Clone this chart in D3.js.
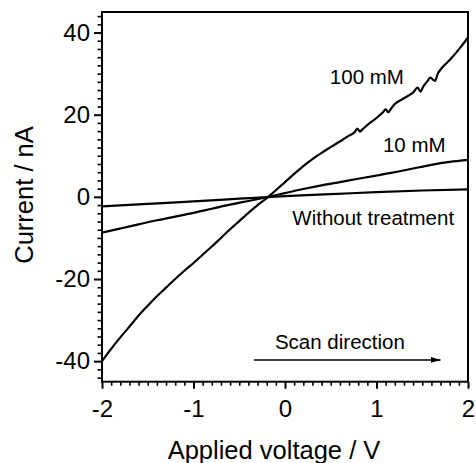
<!DOCTYPE html>
<html>
<head>
<meta charset="utf-8">
<script src="https://cdn.jsdelivr.net/npm/d3@7"></script>
<style>
  html, body { margin: 0; padding: 0; background: #fff; }
  svg { display: block; }
  text { font-family: "Liberation Sans", Arial, sans-serif; fill: #000; }
</style>
</head>
<body>
<svg id="chart" width="476" height="463"></svg>
<script>
// ---- data ----
const xTicks = [-2, -1, 0, 1, 2];
const yTicks = [-40, -20, 0, 20, 40];

const voltage100 = [-2.0,-1.9,-1.8,-1.7,-1.6,-1.5,-1.4,-1.3,-1.2,-1.1,-1.0,-0.9,-0.8,-0.7,-0.6,-0.5,-0.4,-0.3,-0.2,-0.1,0.0,0.1,0.2,0.3,0.4,0.5,0.6,0.7,0.76,0.79,0.82,0.85,0.9,1.0,1.07,1.1,1.13,1.16,1.2,1.3,1.4,1.45,1.48,1.51,1.55,1.59,1.62,1.64,1.67,1.7,1.8,1.9,2.0];
const current100 = [-40.0,-37.0,-34.2,-31.6,-28.9,-26.5,-24.2,-22.1,-20.0,-18.0,-16.1,-14.1,-12.1,-10.0,-7.9,-5.9,-3.9,-2.0,-0.3,1.6,3.6,5.6,7.5,9.2,10.7,12.1,13.5,14.9,15.7,16.6,15.9,16.5,17.5,19.2,20.6,21.3,20.6,21.5,22.6,24.0,25.4,26.6,25.6,26.8,28.0,29.0,28.5,28.2,30.0,31.0,33.3,35.9,38.8];

const voltage10 = [-2.0,-1.8,-1.6,-1.4,-1.2,-1.0,-0.8,-0.6,-0.4,-0.2,0.0,0.2,0.4,0.6,0.8,1.0,1.2,1.4,1.6,1.8,2.0];
const current10 = [-8.7,-7.7,-6.7,-5.7,-4.8,-3.9,-2.9,-1.9,-1.0,-0.1,0.9,1.9,2.8,3.6,4.4,5.2,6.0,6.9,7.8,8.5,9.0];

const voltage0 = [-2.0,-1.5,-1.0,-0.5,0.0,0.5,1.0,1.5,2.0];
const current0 = [-2.3,-1.7,-1.1,-0.45,0.2,0.65,1.15,1.55,1.8];

const seriesLabels = ["100 mM", "10 mM", "Without treatment"];

// ---- layout ----
const svg = d3.select("#chart");
const x = d3.scaleLinear().domain([-2, 2]).range([102, 468]);
const y = d3.scaleLinear().domain([-45, 45]).range([381.7, 12]);
const FONT_TICK = "24px";
const FONT_TITLE = "25.5px";
const FONT_NOTE = "20.5px";

// curves
const line = d3.line().x(d => x(d[0])).y(d => y(d[1])).curve(d3.curveMonotoneX);
const series = [
  d3.zip(voltage100, current100),
  d3.zip(voltage10, current10),
  d3.zip(voltage0, current0)
];
svg.append("g").selectAll("path").data(series).join("path")
  .attr("d", line)
  .attr("fill", "none")
  .attr("stroke", "#000")
  .attr("stroke-width", 2.2)
  .attr("stroke-linejoin", "round");

// minor ticks
const xMinor = d3.range(-20, 21).map(d => d / 10).filter(v => Math.abs(v - Math.round(v)) > 1e-6);
const yMinor = d3.range(-44, 45, 2).filter(v => v % 20 !== 0);

svg.append("g")
  .attr("transform", `translate(0,${y(-45)})`)
  .call(d3.axisBottom(x).tickValues(xMinor).tickSize(4).tickFormat(""))
  .call(g => g.select(".domain").remove())
  .call(g => g.selectAll("line").attr("stroke-width", 1.6));
svg.append("g")
  .attr("transform", `translate(${x(-2)},0)`)
  .call(d3.axisLeft(y).tickValues(yMinor).tickSize(4.5).tickFormat(""))
  .call(g => g.select(".domain").remove())
  .call(g => g.selectAll("line").attr("stroke-width", 1.6));

// major axes
svg.append("g")
  .attr("transform", `translate(0,${y(-45)})`)
  .call(d3.axisBottom(x).tickValues(xTicks).tickSize(7).tickPadding(11).tickFormat(d => String(d)))
  .call(g => g.select(".domain").remove())
  .call(g => g.selectAll("line").attr("stroke-width", 2))
  .call(g => g.selectAll("text").style("font-size", FONT_TICK).attr("font-family", null));
svg.append("g")
  .attr("transform", `translate(${x(-2)},0)`)
  .call(d3.axisLeft(y).tickValues(yTicks).tickSize(8).tickPadding(4).tickFormat(d => String(d)))
  .call(g => g.select(".domain").remove())
  .call(g => g.selectAll("line").attr("stroke-width", 2))
  .call(g => g.selectAll("text").style("font-size", FONT_TICK).attr("font-family", null));

// frame
svg.append("rect")
  .attr("x", x(-2)).attr("y", y(45))
  .attr("width", x(2) - x(-2)).attr("height", y(-45) - y(45))
  .attr("fill", "none").attr("stroke", "#000").attr("stroke-width", 2);

// axis titles
svg.append("text")
  .attr("x", 274).attr("y", 458.5)
  .attr("text-anchor", "middle")
  .style("font-size", FONT_TITLE)
  .text("Applied voltage / V");
svg.append("text")
  .attr("transform", "translate(33,195) rotate(-90)")
  .attr("text-anchor", "middle")
  .style("font-size", FONT_TITLE)
  .text("Current / nA");

// series labels
const notePos = [[0.49, 27.5], [1.07, 10.9], [0.08, -6.9]];
svg.append("g").selectAll("text").data(seriesLabels).join("text")
  .attr("x", (d, i) => x(notePos[i][0]))
  .attr("y", (d, i) => y(notePos[i][1]))
  .style("font-size", FONT_NOTE)
  .text(d => d);

// scan direction
svg.append("defs").append("marker")
  .attr("id", "arrow")
  .attr("viewBox", "0 0 10 6")
  .attr("refX", 10).attr("refY", 3)
  .attr("markerWidth", 10).attr("markerHeight", 6)
  .attr("markerUnits", "userSpaceOnUse")
  .attr("orient", "auto")
  .append("path").attr("d", "M0,0 L10,3 L0,6 Z").attr("fill", "#000");
svg.append("line")
  .attr("x1", x(-0.34)).attr("x2", x(1.70))
  .attr("y1", y(-39.7)).attr("y2", y(-39.7))
  .attr("stroke", "#000").attr("stroke-width", 1.5)
  .attr("marker-end", "url(#arrow)");
svg.append("text")
  .attr("x", x(-0.11)).attr("y", y(-37.1))
  .style("font-size", FONT_NOTE)
  .text("Scan direction");
</script>
</body>
</html>
